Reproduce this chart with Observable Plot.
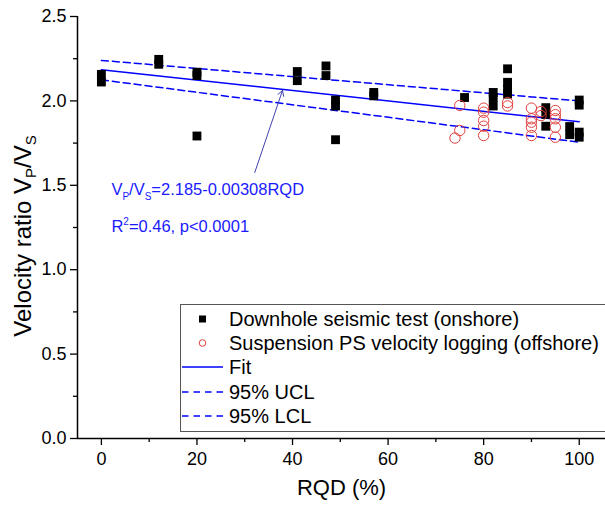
<!DOCTYPE html>
<html><head><meta charset="utf-8">
<script src="https://cdn.jsdelivr.net/npm/d3@7"></script>
<script src="https://cdn.jsdelivr.net/npm/@observablehq/plot@0.6"></script>
<style>body{margin:0;background:#fff} svg{font-family:"Liberation Sans",Arial,sans-serif}</style>
</head><body><div id="chart"></div>
<script>
// Downhole seismic test (onshore)
const dsRQD = [0,0, 12,12, 20,20,20, 41,41, 47,47, 49,49,49, 57,57, 76, 82,82,82, 85,85,85,85, 93,93,93, 98,98, 100,100,100,100];
const dsVR  = [2.157,2.112, 2.246,2.217, 2.17,2.15,1.792, 2.174,2.12, 2.207,2.15, 2.005,1.97,1.77, 2.05,2.03, 2.02, 2.05,2.02,1.97, 2.19,2.11,2.07,2.04, 1.96,1.92,1.85, 1.848,1.80, 2.005,1.975,1.815,1.785];
// Suspension PS velocity logging (offshore)
const psRQD = [74, 75, 75, 80,80,80,80,80, 85,85, 90,90,90,90,90, 92,92, 95,95,95,95,95];
const psVR  = [1.78, 1.973, 1.825, 1.957,1.933,1.884,1.85,1.795, 1.99,1.97, 1.957,1.894,1.874,1.844,1.795, 1.937,1.913, 1.943,1.918,1.894,1.844,1.785];
// Fit and 95% confidence limits
const lineRQD = [0, 100];
const fitVR = [2.185, 1.877];
const uclVR = [2.24, 2.0];
const lclVR = [2.125, 1.755];
// Ticks
const xMajor = [0, 20, 40, 60, 80, 100];
const xMinor = [10, 30, 50, 70, 90];
const yMajor = [0, 0.5, 1.0, 1.5, 2.0, 2.5];
const yMinor = [0.25, 0.75, 1.25, 1.75, 2.25];
// Annotation arrow (from text to fit line)
const arrowFrom = {x: 32.1, y: 1.576};
const arrowTo = {x: 37.9, y: 2.062};
const legendLabels = ["Downhole seismic test (onshore)", "Suspension PS velocity logging (offshore)", "Fit", "95% UCL", "95% LCL"];

const ds = dsRQD.map((x, i) => ({x, y: dsVR[i]}));
const ps = psRQD.map((x, i) => ({x, y: psVR[i]}));
const fit = lineRQD.map((x, i) => ({x, y: fitVR[i]}));
const ucl = lineRQD.map((x, i) => ({x, y: uclVR[i]}));
const lcl = lineRQD.map((x, i) => ({x, y: lclVR[i]}));

const BLUE = "#0000ff";
const RED = "#e04040";
const FONT = "Liberation Sans, Arial, sans-serif";

const plot = Plot.plot({
  width: 605, height: 506,
  marginLeft: 77, marginRight: 0, marginTop: 16, marginBottom: 68,
  style: {fontFamily: FONT, background: "#fff", color: "#000", overflow: "visible"},
  x: {domain: [-5, 105.5]},
  y: {domain: [0, 2.5]},
  marks: [
    Plot.axisX(xMajor, {tickSize: 7, tickPadding: 7, fontSize: 18, strokeWidth: 1.3, label: null, tickFormat: d => d3.format("d")(d)}),
    Plot.axisX(xMinor, {tickSize: 4, strokeWidth: 1.3, label: null, tickFormat: () => ""}),
    Plot.axisY(yMajor, {tickSize: 7, tickPadding: 4, fontSize: 18, strokeWidth: 1.3, label: null, tickFormat: d3.format(".1f")}),
    Plot.axisY(yMinor, {tickSize: 4, strokeWidth: 1.3, label: null, tickFormat: () => ""}),
    Plot.ruleY([0], {strokeWidth: 1.5}),
    Plot.ruleX([-5], {strokeWidth: 1.5}),
    Plot.line(ucl, {x: "x", y: "y", stroke: BLUE, strokeWidth: 1.5, strokeDasharray: "7,4"}),
    Plot.line(lcl, {x: "x", y: "y", stroke: BLUE, strokeWidth: 1.5, strokeDasharray: "7,4"}),
    Plot.line(fit, {x: "x", y: "y", stroke: BLUE, strokeWidth: 1.5}),
    Plot.dot(ds, {x: "x", y: "y", symbol: "square", r: 5, fill: "#000", stroke: "none"}),
    Plot.dot(ps, {x: "x", y: "y", r: 5.2, fill: "none", stroke: RED, strokeWidth: 1}),
    Plot.arrow([{x1: arrowFrom.x, y1: arrowFrom.y, x2: arrowTo.x, y2: arrowTo.y}], {x1: "x1", y1: "y1", x2: "x2", y2: "y2", stroke: "#4040b0", strokeWidth: 1, headLength: 9, bend: 0}),
    Plot.text(["RQD (%)"], {frameAnchor: "bottom", dy: 56, fontSize: 22, fill: "#000"})
  ]
});
document.getElementById("chart").appendChild(plot);

const svg = d3.select(plot);
const sx = plot.scale("x"), sy = plot.scale("y");

// Y axis title with subscripts
const yt = svg.append("text")
  .attr("transform", "translate(31,236) rotate(-90)")
  .attr("text-anchor", "middle").attr("font-size", 24).attr("fill", "#000");
yt.append("tspan").text("Velocity ratio V");
yt.append("tspan").attr("font-size", 15).attr("dy", 5).text("P");
yt.append("tspan").attr("dy", -5).text("/V");
yt.append("tspan").attr("font-size", 15).attr("dy", 5).text("S");

// Annotation
const ax = sx.apply(2.2);
const t1 = svg.append("text").attr("x", ax).attr("y", sy.apply(1.44))
  .attr("text-anchor", "start").attr("font-size", 16.5).attr("fill", "#1a1aff");
t1.append("tspan").text("V");
t1.append("tspan").attr("font-size", 10).attr("dy", 5).text("P");
t1.append("tspan").attr("dy", -5).text("/V");
t1.append("tspan").attr("font-size", 10).attr("dy", 5).text("S");
t1.append("tspan").attr("dy", -5).text("=2.185-0.00308RQD");
const t2 = svg.append("text").attr("x", ax).attr("y", sy.apply(1.22))
  .attr("text-anchor", "start").attr("font-size", 16.5).attr("fill", "#1a1aff");
t2.append("tspan").text("R");
t2.append("tspan").attr("font-size", 10).attr("dy", -7).text("2");
t2.append("tspan").attr("dy", 7).text("=0.46, p<0.0001");

// Legend
const lg = svg.append("g");
lg.append("rect").attr("x", 180.5).attr("y", 304.5).attr("width", 440).attr("height", 127)
  .attr("fill", "#fff").attr("stroke", "#555").attr("stroke-width", 1);
const rows = [319, 343, 367, 392, 416];
lg.append("rect").attr("x", 199).attr("y", rows[0] - 3.5).attr("width", 7).attr("height", 7).attr("fill", "#000");
lg.append("circle").attr("cx", 202.5).attr("cy", rows[1]).attr("r", 3.3).attr("fill", "none").attr("stroke", RED);
lg.append("line").attr("x1", 182).attr("x2", 223).attr("y1", rows[2]).attr("y2", rows[2]).attr("stroke", BLUE).attr("stroke-width", 1.3);
lg.append("line").attr("x1", 182).attr("x2", 223).attr("y1", rows[3]).attr("y2", rows[3]).attr("stroke", BLUE).attr("stroke-width", 1.3).attr("stroke-dasharray", "6.5,5");
lg.append("line").attr("x1", 182).attr("x2", 223).attr("y1", rows[4]).attr("y2", rows[4]).attr("stroke", BLUE).attr("stroke-width", 1.3).attr("stroke-dasharray", "6.5,5");
legendLabels.forEach((t, i) => {
  lg.append("text").attr("x", 229).attr("y", rows[i]).attr("dy", "0.35em")
    .attr("text-anchor", "start").attr("font-size", 20).attr("fill", "#000").text(t);
});
</script>
</body></html>
